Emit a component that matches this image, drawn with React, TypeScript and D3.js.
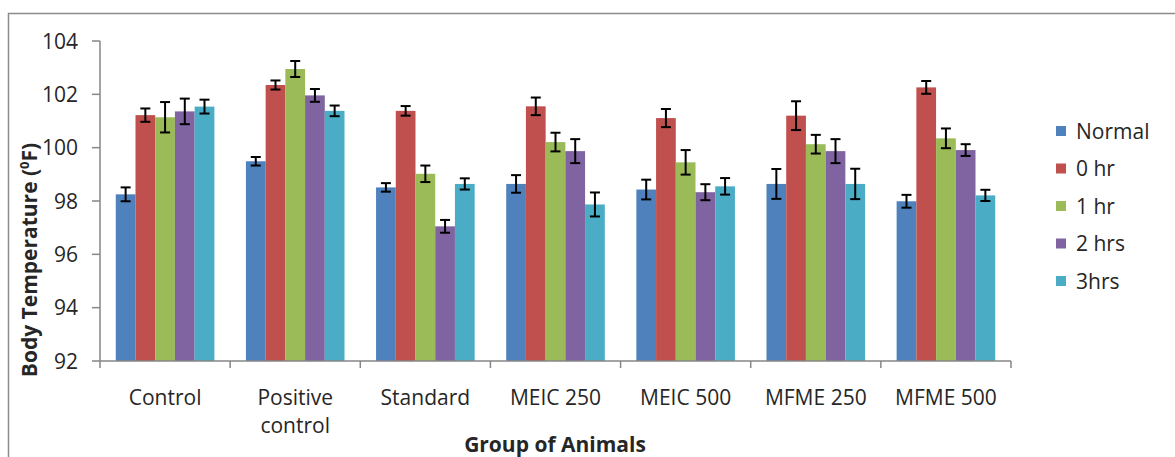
import React from "react";
import * as d3 from "d3";

const categories = ["Control", "Positive control", "Standard", "MEIC 250", "MEIC 500", "MFME 250", "MFME 500"];
const seriesNames = ["Normal", "0 hr", "1 hr", "2 hrs", "3hrs"];
const colors = ["#4F81BD", "#C0504D", "#9BBB59", "#8064A2", "#4BACC6"];
const normal = [98.25, 99.49, 98.51, 98.64, 98.43, 98.64, 97.99];
const hr0 = [101.22, 102.35, 101.38, 101.55, 101.11, 101.2, 102.26];
const hr1 = [101.14, 102.95, 99.02, 100.21, 99.45, 100.13, 100.35];
const hr2 = [101.36, 101.96, 97.05, 99.87, 98.33, 99.87, 99.91];
const hr3 = [101.54, 101.38, 98.64, 97.87, 98.55, 98.64, 98.21];
const errNormal = [0.26, 0.16, 0.16, 0.33, 0.37, 0.56, 0.24];
const err0 = [0.25, 0.17, 0.18, 0.33, 0.34, 0.54, 0.24];
const err1 = [0.57, 0.3, 0.31, 0.35, 0.46, 0.35, 0.37];
const err2 = [0.48, 0.24, 0.24, 0.45, 0.3, 0.45, 0.22];
const err3 = [0.26, 0.2, 0.21, 0.45, 0.31, 0.57, 0.21];
const yTicks = [92, 94, 96, 98, 100, 102, 104];

const values = [normal, hr0, hr1, hr2, hr3];
const errors = [errNormal, err0, err1, err2, err3];

export default function App() {
  const left = 100, right = 1011, top = 41, bottom = 361;
  const x = d3.scaleBand<string>().domain(categories).range([left, right]).paddingInner(0).paddingOuter(0);
  const bw = x.bandwidth();
  const barW = bw / 6.6;
  const groupOffset = (bw - barW * 5) / 2;
  const y = d3.scaleLinear().domain([92, 104]).range([bottom, top]);
  const font = "'Open Sans', sans-serif";
  const axisColor = "#868686";
  const txt = "#262626";

  return (
    <svg width={1175} height={457} style={{ position: "absolute", left: 0, top: 0, background: "#fff" }} fontFamily={font}>
      <rect x={8.5} y={13.5} width={1180} height={460} fill="#fff" stroke="#8c8c8c" strokeWidth={1.5} />
      {/* bars */}
      {categories.map((c, ci) =>
        values.map((s, si) => {
          const bx = (x(c) as number) + groupOffset + si * barW;
          return (
            <rect key={c + si} x={bx} y={y(s[ci])} width={barW} height={bottom - y(s[ci])} fill={colors[si]} />
          );
        })
      )}
      {/* error bars */}
      {categories.map((c, ci) =>
        values.map((s, si) => {
          const cx = (x(c) as number) + groupOffset + si * barW + barW / 2;
          const hi = y(s[ci] + errors[si][ci]);
          const lo = y(s[ci] - errors[si][ci]);
          return (
            <g key={"e" + c + si} stroke="#000" strokeWidth={2}>
              <line x1={cx} x2={cx} y1={hi} y2={lo} />
              <line x1={cx - 5} x2={cx + 5} y1={hi} y2={hi} />
              <line x1={cx - 5} x2={cx + 5} y1={lo} y2={lo} />
            </g>
          );
        })
      )}
      {/* y axis */}
      <line x1={left} x2={left} y1={top} y2={bottom} stroke={axisColor} strokeWidth={1.5} />
      {yTicks.map((t) => (
        <g key={"yt" + t}>
          <line x1={left - 8} x2={left} y1={y(t)} y2={y(t)} stroke={axisColor} strokeWidth={1.5} />
          <text x={78} y={y(t)} dy="0.36em" textAnchor="end" fontSize={21} fill={txt}>
            {t}
          </text>
        </g>
      ))}
      {/* x axis */}
      <line x1={left} x2={right} y1={bottom} y2={bottom} stroke={axisColor} strokeWidth={1.5} />
      {[...categories.map((c) => x(c) as number), right].map((px, i) => (
        <line key={"xt" + i} x1={px} x2={px} y1={bottom} y2={bottom + 7} stroke={axisColor} strokeWidth={1.5} />
      ))}
      {categories.map((c) => {
        const cx = (x(c) as number) + bw / 2;
        const parts = c === "Positive control" ? ["Positive", "control"] : [c];
        return (
          <text key={"xl" + c} x={cx} y={405} textAnchor="middle" fontSize={21} fill={txt}>
            {parts.map((p, i) => (
              <tspan key={i} x={cx} dy={i === 0 ? 0 : 28}>
                {p}
              </tspan>
            ))}
          </text>
        );
      })}
      <text x={555} y={452} textAnchor="middle" fontSize={21} fontWeight="bold" fill={txt}>
        Group of Animals
      </text>
      <text transform={`translate(37,260) rotate(-90)`} textAnchor="middle" fontSize={21} fontWeight="bold" fill={txt}>
        Body Temperature (<tspan fontSize={13} dy={-8}>0</tspan>
        <tspan dy={8}>F)</tspan>
      </text>
      {/* legend */}
      {seriesNames.map((n, i) => {
        const ly = 131 + i * 37.5;
        return (
          <g key={"lg" + n}>
            <rect x={1056} y={ly - 5} width={10} height={10} fill={colors[i]} />
            <text x={1076} y={ly} dy="0.36em" fontSize={21} fill={txt}>
              {n}
            </text>
          </g>
        );
      })}
    </svg>
  );
}
